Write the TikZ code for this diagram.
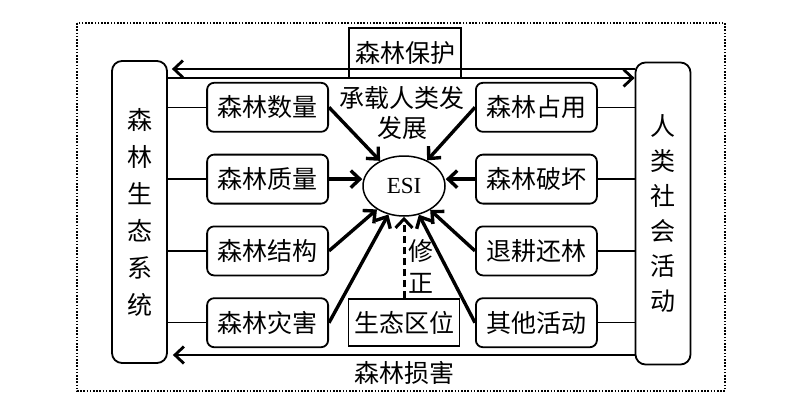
\documentclass[tikz,border=0pt]{standalone}
\usepackage{fontspec}
\setmainfont{Liberation Serif}
\newfontfamily\cjk{Noto Sans CJK SC}
\usepackage{tikz}
\usetikzlibrary{arrows.meta}
\usetikzlibrary{matrix}
\usetikzlibrary{shapes.geometric}
\tikzset{
  lbl/.style={font=\cjk\fontsize{25}{30}\selectfont},
  box/.style={lbl,draw,rounded corners=7pt,line width=1.8pt,minimum width=121pt,minimum height=49pt,inner sep=0pt},
  flat/.style={lbl,draw,line width=1.5pt,inner sep=0pt},
  tallbox/.style={draw,rounded corners=10pt,line width=1.8pt,minimum width=55pt,minimum height=302pt,align=center,inner sep=0pt},
  link/.style={line width=1.5pt},
  feed/.style={line width=3.4pt,-{Straight Barb[length=9pt,width=17pt]}},
  duo/.style={line width=2.8pt,-{Straight Barb[length=9pt,width=17pt]}}
}

\begin{document}
\begin{tikzpicture}[x=1pt,y=-1pt]
\useasboundingbox (0,0) rectangle (800,413);
\draw[line width=1.6pt,dash pattern=on 1.6pt off 1.6pt] (77,23) rectangle (725,391);
\matrix (m) [matrix of nodes,row sep=21pt,column sep=146pt,nodes={box,anchor=center}] at (402,215)
  {
     森林数量 & 森林占用\\
     森林质量 & 森林破坏\\
     森林结构 & 退耕还林\\
     森林灾害 & 其他活动\\};
\node[tallbox,font=\cjk\fontsize{25}{37}\selectfont] (forest) at (139.5,212) {森\\林\\生\\态\\系\\统};
\node[tallbox,font=\cjk\fontsize{25}{35}\selectfont] (human) at (663,213.5) {人\\类\\社\\会\\活\\动};
\node[ellipse,draw,line width=1.5pt,minimum width=82pt,minimum height=60pt,inner sep=0pt,font=\fontsize{23}{23}\selectfont] (esi) at (404,186) {ESI};
\node[flat,minimum width=111pt,minimum height=47pt] (niche) at (esi |- m-4-1) {生态区位};
\node[flat,minimum width=112pt,minimum height=50pt] (protect) at (405,53) {森林保护};
\node[lbl,align=center] (carry) at (402,113) {承载人类发\\发展};
\node[lbl,align=center,font=\cjk\fontsize{25}{32}\selectfont] (revise) at (421,266) {修\\正};
\node[lbl] (damage) at (404,373) {森林损害};
\coordinate (up) at (0,69);
\coordinate (mid) at (0,78);
\coordinate (low) at (0,355);
% links to the two systems
\foreach \i in {1,...,4}{
  \draw[link] (forest.east |- m-\i-1) -- (m-\i-1.west);
  \draw[link] (m-\i-2.east) -- (human.west |- m-\i-2);
}
% factors into ESI
\path[feed]
  (m-1-1.east) edge (esi)
  (m-2-1.east) edge (m-2-1.east -| esi.west)
  (m-3-1.east) edge (esi)
  (m-4-1.east) edge (esi)
  (m-1-2.west) edge (esi)
  (m-2-2.west) edge (m-2-2.west -| esi.east)
  (m-3-2.west) edge (esi)
  (m-4-2.west) edge (esi);
\draw[feed,dash pattern=on 7pt off 4pt,line width=3pt] (niche) -- (esi);
% exchanges between the systems
\draw[duo,shorten >=4pt] (human.west |- up) -- (forest.east |- up);
\draw[duo] (forest.east |- mid) -- (human.west |- mid);
\draw[duo,shorten >=5pt] (human.west |- low) -- (forest.east |- low);
\end{tikzpicture}
\end{document}
